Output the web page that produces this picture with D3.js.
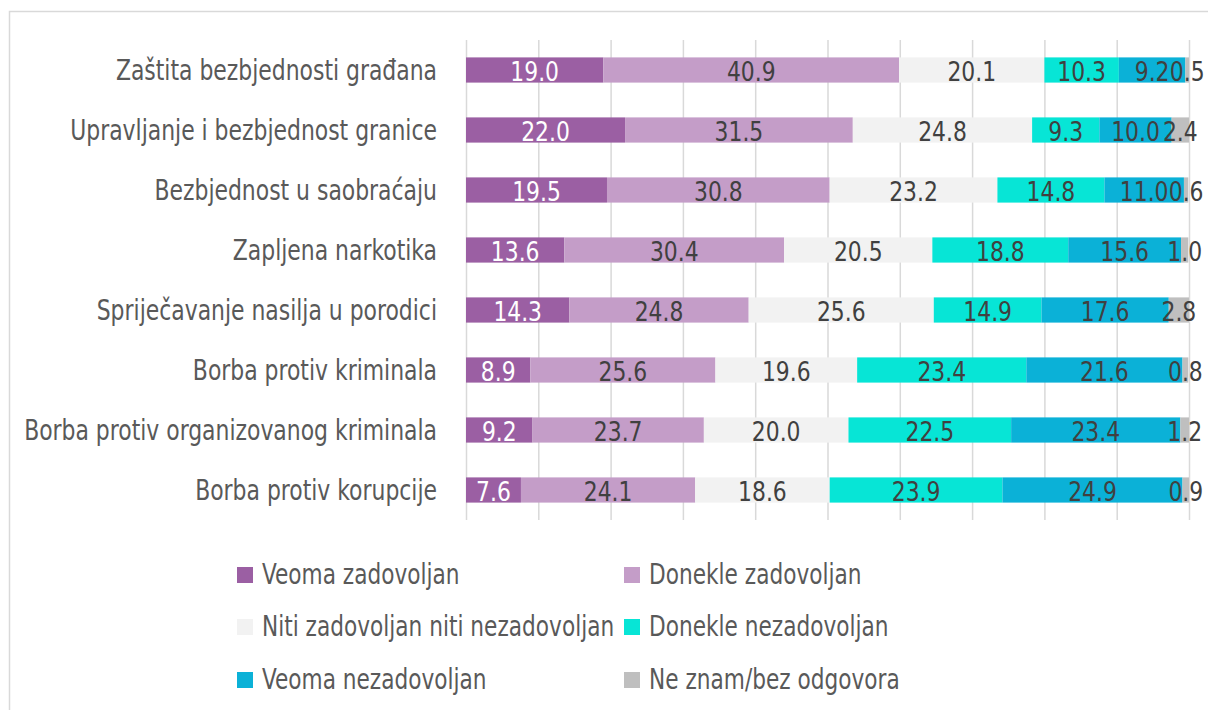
<!DOCTYPE html>
<html><head><meta charset="utf-8">
<script src="https://cdn.jsdelivr.net/npm/d3@7"></script>
<style>
body{margin:0;background:#fff}
svg{display:block}
text{font-family:"DejaVu Sans Condensed","DejaVu Sans","Roboto",sans-serif}
</style>
</head><body>
<svg id="chart" width="1208" height="710"></svg>
<script>
const categories = [
  "Zaštita bezbjednosti građana",
  "Upravljanje i bezbjednost granice",
  "Bezbjednost u saobraćaju",
  "Zapljena narkotika",
  "Spriječavanje nasilja u porodici",
  "Borba protiv kriminala",
  "Borba protiv organizovanog kriminala",
  "Borba protiv korupcije"
];
const seriesNames = [
  "Veoma zadovoljan",
  "Donekle zadovoljan",
  "Niti zadovoljan niti nezadovoljan",
  "Donekle nezadovoljan",
  "Veoma nezadovoljan",
  "Ne znam/bez odgovora"
];
const veomaZadovoljan     = [19.0, 22.0, 19.5, 13.6, 14.3, 8.9, 9.2, 7.6];
const donekleZadovoljan   = [40.9, 31.5, 30.8, 30.4, 24.8, 25.6, 23.7, 24.1];
const nitiNiti            = [20.1, 24.8, 23.2, 20.5, 25.6, 19.6, 20.0, 18.6];
const donekleNezadovoljan = [10.3, 9.3, 14.8, 18.8, 14.9, 23.4, 22.5, 23.9];
const veomaNezadovoljan   = [9.2, 10.0, 11.0, 15.6, 17.6, 21.6, 23.4, 24.9];
const neZnam              = [0.5, 2.4, 0.6, 1.0, 2.8, 0.8, 1.2, 0.9];
const xTicks = [0, 10, 20, 30, 40, 50, 60, 70, 80, 90, 100];

const seriesValues = [veomaZadovoljan, donekleZadovoljan, nitiNiti, donekleNezadovoljan, veomaNezadovoljan, neZnam];
const colors = ["#9b5fa3", "#c49dc8", "#f2f2f2", "#07e5d6", "#0bb1d7", "#bfbfbf"];
const labelColors = ["#ffffff", "#404040", "#404040", "#404040", "#404040", "#404040"];

const rows = categories.map((c, i) => {
  const r = {category: c};
  seriesNames.forEach((s, j) => r[s] = seriesValues[j][i]);
  return r;
});

const svg = d3.select("#chart");

// outer frame
svg.append("rect").attr("x", 9.5).attr("y", 11.5).attr("width", 1220).attr("height", 720)
  .attr("fill", "none").attr("stroke", "#d9d9d9").attr("stroke-width", 1.5);

const x = d3.scaleLinear().domain([0, 100]).range([466, 1189]);
const y = d3.scaleBand().domain(categories).range([40, 520]).paddingInner(0.58).paddingOuter(0.29);

// gridlines
const gx = svg.append("g").attr("transform", "translate(0,520)")
  .call(d3.axisBottom(x).tickValues(xTicks).tickSize(-480).tickFormat(""));
gx.select(".domain").remove();
gx.selectAll(".tick line").attr("stroke", "#d9d9d9").attr("stroke-width", 1.5);

// category axis
const gy = svg.append("g").attr("transform", "translate(437,0)")
  .call(d3.axisLeft(y).tickSize(0).tickPadding(0));
gy.select(".domain").remove();
gy.selectAll(".tick text").attr("fill", "#595959").style("font-size", "28px")
  .attr("x", 0).attr("dy", "0.35em").attr("transform", "scale(0.87,1)");

const stack = d3.stack().keys(seriesNames);
const stacked = stack(rows);

const layers = svg.append("g").selectAll("g").data(stacked).join("g")
  .attr("fill", (d, i) => colors[i]);

layers.selectAll("rect").data(d => d).join("rect")
  .attr("x", d => x(d[0]))
  .attr("y", d => y(d.data.category))
  .attr("width", d => x(d[1]) - x(d[0]))
  .attr("height", y.bandwidth());

const labelLayers = svg.append("g").selectAll("g").data(stacked).join("g")
  .attr("fill", (d, i) => labelColors[i]);

labelLayers.selectAll("text").data(d => d.map(v => ({v, key: d.key}))).join("text")
  .attr("transform", d => `translate(${x((d.v[0] + d.v[1]) / 2)},${y(d.v.data.category) + y.bandwidth() / 2}) scale(0.9,1)`)
  .attr("dy", "0.42em")
  .attr("text-anchor", "middle")
  .style("font-size", "27px")
  .text(d => d3.format(".1f")(d.v.data[d.key]));

// legend
const legendX = [237, 624];
const legendY = [575, 627, 680];
const lg = svg.append("g").selectAll("g").data(seriesNames).join("g")
  .attr("transform", (d, i) => `translate(${legendX[i % 2]},${legendY[Math.floor(i / 2)]})`);
lg.append("rect").attr("x", 0).attr("y", -8).attr("width", 16).attr("height", 16)
  .attr("fill", (d, i) => colors[i]);
lg.append("text").attr("transform", "translate(25,0) scale(0.86,1)").attr("dy", "0.33em")
  .attr("fill", "#595959").style("font-size", "28px").text(d => d);
</script>
</body></html>
